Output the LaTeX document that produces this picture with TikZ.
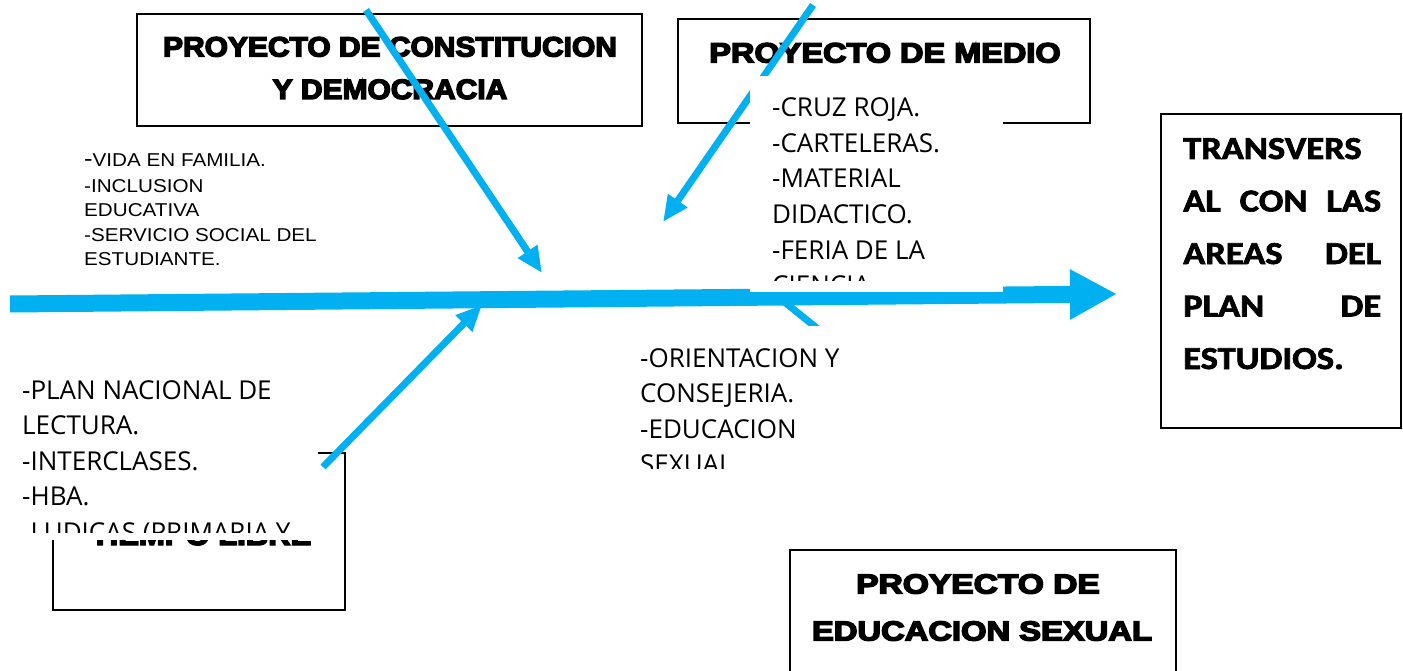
\documentclass[tikz,border=0pt]{standalone}
\usepackage{fontspec}
\usepackage{graphicx}
\usetikzlibrary{arrows.meta}
\newfontfamily\arialf{Liberation Sans}
\newfontfamily\heavyf{Liberation Sans}[FakeBold=5]
\newfontfamily\osf{Open Sans}
\newfontfamily\calf{Carlito}[FakeBold=2]
\definecolor{fishblue}{HTML}{00B0F0}
\newcommand\hvtext[3]{\scalebox{#2}[1]{\fontsize{#1}{#1}\selectfont\heavyf\bfseries #3}}
\newcommand\ostext[1]{\fontsize{26}{35.5}\selectfont\osf #1}
\newcommand\artext[1]{\scalebox{1.11}[1]{\fontsize{18.6}{24.7}\selectfont\arialf #1}}
\newcommand\catext[1]{\scalebox{1.14}[1]{\fontsize{32}{32}\selectfont\calf\bfseries #1}}
\tikzset{
  box/.style={draw=black, line width=1.6pt},
  cover/.style={fill=white, draw=none},
  hd/.style={inner sep=0pt, anchor=base},
  lt/.style={inner sep=0pt, anchor=base west},
  bone/.style={draw=fishblue, line width=7pt, -{Triangle[length=26pt,width=22pt]}},
  spine/.style={draw=fishblue, line width=17pt, -{Triangle[length=47pt,width=47pt]}},
}
\begin{document}
\begin{tikzpicture}[x=1pt,y=-1pt]
\useasboundingbox (0,0) rectangle (1403,671);
\clip (0,0) rectangle (1403,671);

% ---- boxes with titles
\draw[box] (137,14) rectangle (642,126);
\node[hd] (c1) at (390,56.5) {\hvtext{28}{1.07}{PROYECTO DE CONSTITUCION}};
\node[hd] (c2) at (390,99) {\hvtext{28}{1.07}{Y DEMOCRACIA}};

\draw[box] (678,19) rectangle (1090,123);
\node[hd] (m1) at (885,62.5) {\hvtext{28}{1.16}{PROYECTO DE MEDIO}};

\draw[box] (53,453) rectangle (345,610);
\node[hd] (t1) at (201,545) {\hvtext{29}{1.07}{TIEMPO LIBRE}};

\draw[box] (1161,114) rectangle (1401,428);
\node[lt] (r1) at (1183,159) {\catext{TRANSVERS}};
\node[lt] (r2) at (1183,211.5) {\catext{\makebox[173.7pt][s]{AL\hfill CON\hfill LAS}}};
\node[lt] (r3) at (1183,264) {\catext{\makebox[173.7pt][s]{AREAS\hfill DEL}}};
\node[lt] (r4) at (1183,316.5) {\catext{\makebox[173.7pt][s]{PLAN\hfill DE}}};
\node[lt] (r5) at (1183,369) {\catext{ESTUDIOS.}};

\draw[box] (790,550) rectangle (1176,690);
\node[hd] (e1) at (978,593.5) {\hvtext{27.5}{1.22}{PROYECTO DE}};
\node[hd] (e2) at (982,640.5) {\hvtext{27.5}{1.19}{EDUCACION SEXUAL}};

% ---- list beside the constitution box
\node[lt] (v1) at (84,167) {\artext{{\fontsize{23}{24.7}\selectfont -}VIDA EN FAMILIA.}};
\node[lt] (v2) at (84,192.7) {\artext{-INCLUSION}};
\node[lt] (v3) at (84,216.7) {\artext{EDUCATIVA}};
\node[lt] (v4) at (84,241) {\artext{-SERVICIO SOCIAL DEL}};
\node[lt] (v5) at (84,265.7) {\artext{ESTUDIANTE.}};

% ---- bones under the covers
\coordinate (sxA) at (772,292);
\coordinate (sxB) at (818,329);
\draw[draw=fishblue, line width=7pt] (sxA) -- (sxB);

\coordinate (spA) at (10,304);
\coordinate (spB) at (1117,294);
\draw[spine] (spA) -- (spB);

\coordinate (mdA) at (813,5);
\coordinate (mdB) at (663,222);
\draw[bone] (mdA) -- (mdB);

% ---- list of the medio project
\fill[cover] (750,76) rectangle (1003,292);
\begin{scope}
\clip (750,76) rectangle (1003,280);
\node[lt] (a1) at (772,117) {\ostext{-CRUZ ROJA.}};
\node[lt] (a2) at (772,152.5) {\ostext{-CARTELERAS.}};
\node[lt] (a3) at (772,188) {\ostext{-MATERIAL}};
\node[lt] (a4) at (772,223.5) {\ostext{DIDACTICO.}};
\node[lt] (a5) at (772,259) {\ostext{-FERIA DE LA}};
\node[lt] (a6) at (772,294.5) {\ostext{CIENCIA.}};
\end{scope}

% ---- list of the sexual education project
\fill[cover] (630,326) rectangle (860,468);
\begin{scope}
\clip (630,326) rectangle (860,468);
\node[lt] (o1) at (640,367) {\ostext{-ORIENTACION Y}};
\node[lt] (o2) at (640,402.5) {\ostext{CONSEJERIA.}};
\node[lt] (o3) at (640,438) {\ostext{-EDUCACION}};
\node[lt] (o4) at (640,473.5) {\ostext{SEXUAL.}};
\end{scope}

% ---- list of the free time project
\fill[cover] (10,370) rectangle (318,540);
\begin{scope}
\clip (10,370) rectangle (318,532);
\node[lt] (p1) at (22,399) {\ostext{-PLAN NACIONAL DE}};
\node[lt] (p2) at (22,434.5) {\ostext{LECTURA.}};
\node[lt] (p3) at (22,470) {\ostext{-INTERCLASES.}};
\node[lt] (p4) at (22,505.5) {\ostext{-HBA.}};
\node[lt] (p5) at (22,541) {\ostext{-LUDICAS (PRIMARIA Y}};
\end{scope}

% ---- bones on top
\coordinate (csA) at (366,10);
\coordinate (csB) at (542,273);
\draw[bone] (csA) -- (csB);

\coordinate (tlA) at (323,467);
\coordinate (tlB) at (482,305);
\draw[bone] (tlA) -- (tlB);
\end{tikzpicture}
\end{document}
